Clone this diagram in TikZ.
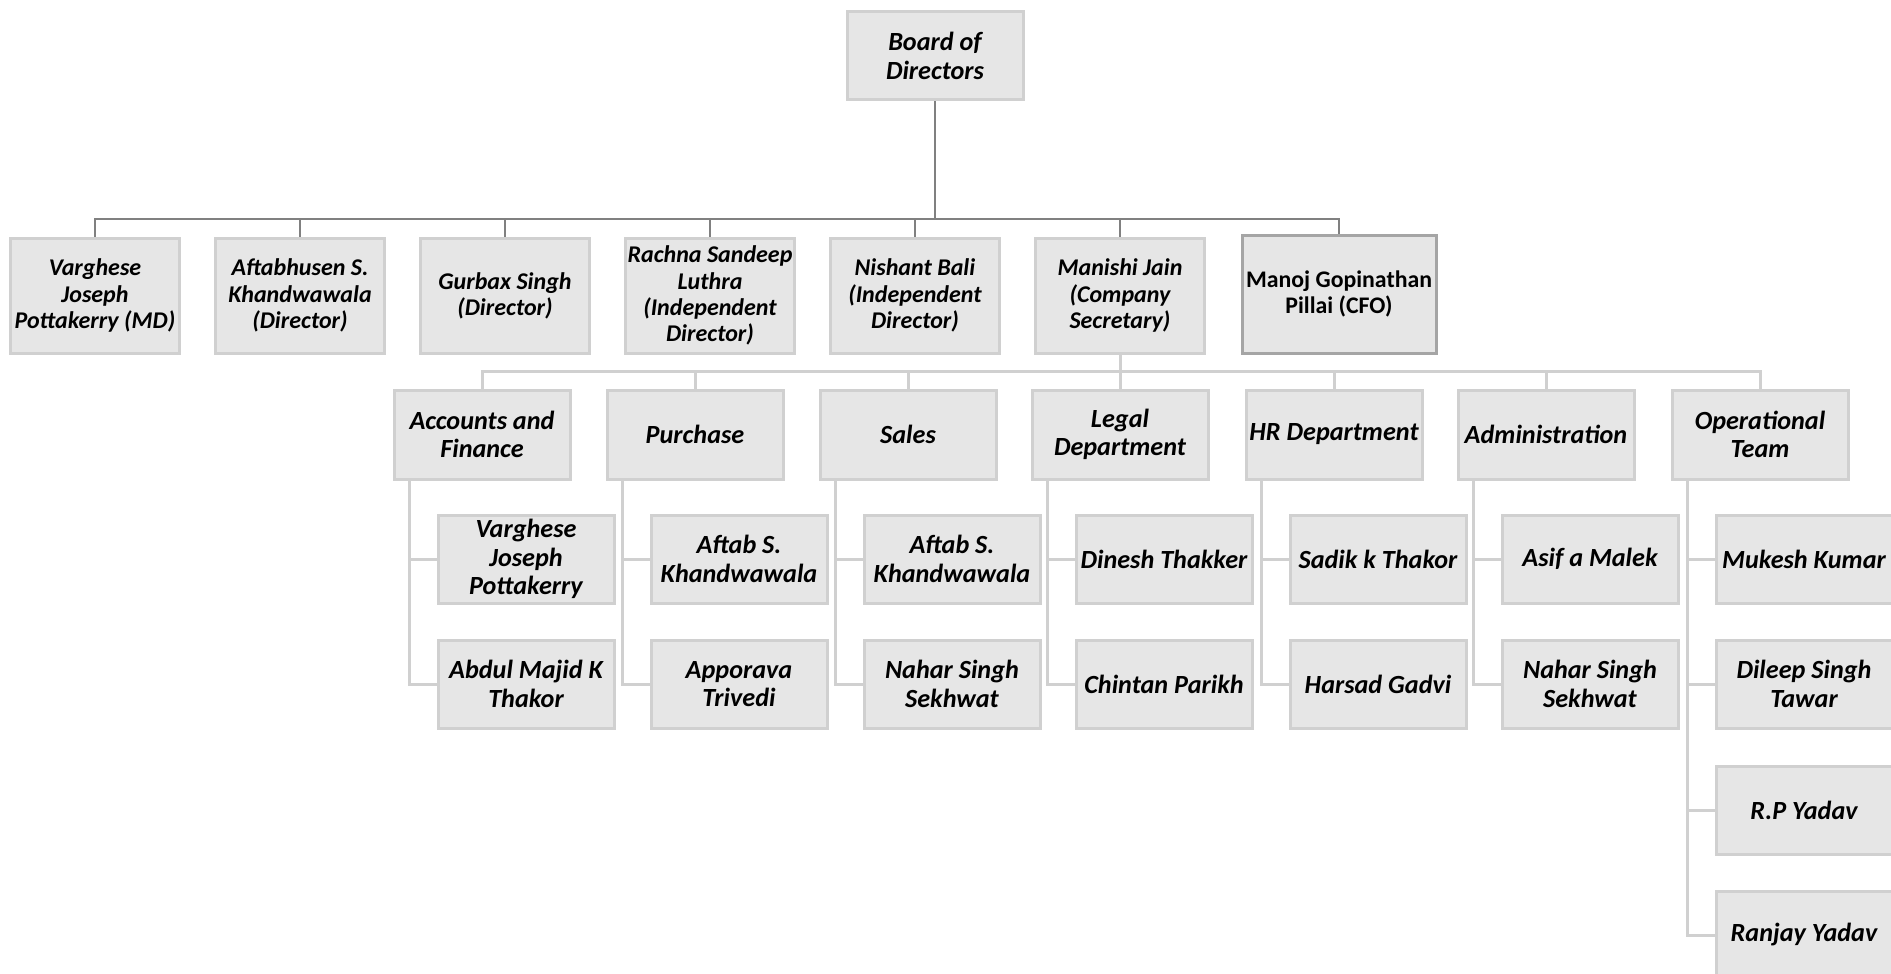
\documentclass[tikz,border=0pt]{standalone}
\usepackage{fontspec}
\setmainfont{Carlito}
\usetikzlibrary{calc}
\definecolor{boxfill}{RGB}{230,230,230}
\definecolor{boxline}{RGB}{208,208,208}
\definecolor{topline}{RGB}{128,128,128}
\definecolor{cfoline}{RGB}{165,165,165}
\begin{document}
\begin{tikzpicture}[x=0.5pt,y=-0.5pt,
 box/.style={draw=boxline, fill=boxfill, line width=1.5pt, align=center, inner sep=1pt, text=black},
 bigtxt/.style={font=\bfseries\itshape\fontsize{13.1}{14.3}\selectfont},
 smalltxt/.style={font=\bfseries\itshape\fontsize{12}{13.1}\selectfont},
 boardbox/.style={box, bigtxt, minimum width=88pt, minimum height=44pt},
 dirbox/.style={box, smalltxt, minimum width=84.5pt, minimum height=57.5pt},
 cfobox/.style={box, draw=cfoline, font=\bfseries\fontsize{11.9}{13.1}\selectfont, minimum width=97pt, minimum height=59pt},
 deptbox/.style={box, bigtxt, minimum width=88pt, minimum height=44.5pt},
 membox/.style={box, bigtxt, minimum width=88pt, minimum height=44pt},
 topconn/.style={draw=topline, line width=1.25pt},
 conn/.style={draw=boxline, line width=1.5pt}]
\useasboundingbox (0,0) rectangle (1891,974);
\clip (0,0) rectangle (1891,974);

% Board
\node[boardbox] (bod) at (935,56) {Board of\\Directors};

% Level 1
\node[dirbox] (d1) at (95,295.5) {Varghese\\Joseph\\Pottakerry (MD)};
\node[dirbox] (d2) at (300,295.5) {Aftabhusen S.\\Khandwawala\\(Director)};
\node[dirbox] (d3) at (505,295.5) {Gurbax Singh\\(Director)};
\node[dirbox] (d4) at (710,295.5) {Rachna Sandeep\\Luthra\\(Independent\\Director)};
\node[dirbox] (d5) at (915,295.5) {Nishant Bali\\(Independent\\Director)};
\node[dirbox] (cs) at (1120,295.5) {Manishi Jain\\(Company\\Secretary)};
\node[cfobox] (cfo) at (1339,294) {Manoj Gopinathan\\Pillai (CFO)};

\coordinate (bus1) at (935,219);
\draw[topconn] (bod.south) -- (bus1);
\foreach \n in {d1,d2,d3,d4,d5,cs,cfo} {\draw[topconn] (bus1) -| (\n.north);}

% Departments
\node[deptbox] (acc) at (482,434.5) {Accounts and\\Finance};
\node[deptbox] (pur) at (695,434.5) {Purchase};
\node[deptbox] (sal) at (908,434.5) {Sales};
\node[deptbox] (leg) at (1120,434.5) {Legal\\Department};
\node[deptbox] (hr) at (1334,434.5) {HR Department};
\node[deptbox] (adm) at (1546,434.5) {Administration};
\node[deptbox] (ops) at (1760,434.5) {Operational\\Team};

\coordinate (bus2) at (1120,371);
\draw[conn] (cs.south) -- (bus2);
\foreach \n in {acc,pur,sal,leg,hr,adm,ops} {\draw[conn] (bus2) -| (\n.north);}

% Members
\node[membox] (acc1) at (526,559) {Varghese\\Joseph\\Pottakerry};
\node[membox] (acc2) at (526,684) {Abdul Majid K\\Thakor};
\node[membox] (pur1) at (739,559) {Aftab S.\\Khandwawala};
\node[membox] (pur2) at (739,684) {Apporava\\Trivedi};
\node[membox] (sal1) at (952,559) {Aftab S.\\Khandwawala};
\node[membox] (sal2) at (952,684) {Nahar Singh\\Sekhwat};
\node[membox] (leg1) at (1164,559) {Dinesh Thakker};
\node[membox] (leg2) at (1164,684) {Chintan Parikh};
\node[membox] (hr1) at (1378,559) {Sadik k Thakor};
\node[membox] (hr2) at (1378,684) {Harsad Gadvi};
\node[membox] (adm1) at (1590,559) {Asif a Malek};
\node[membox] (adm2) at (1590,684) {Nahar Singh\\Sekhwat};
\node[membox] (ops1) at (1804,559) {Mukesh Kumar};
\node[membox] (ops2) at (1804,684) {Dileep Singh\\Tawar};
\node[membox] (ops3) at (1804,810) {R.P Yadav};
\node[membox] (ops4) at (1804,935) {Ranjay Yadav};

\foreach \d/\m in {acc/acc1,acc/acc2,pur/pur1,pur/pur2,sal/sal1,sal/sal2,leg/leg1,leg/leg2,hr/hr1,hr/hr2,adm/adm1,adm/adm2,ops/ops1,ops/ops2,ops/ops3,ops/ops4}
  {\draw[conn] ($(\d.south west)+(17,0)$) |- (\m.west);}
\end{tikzpicture}
\end{document}
